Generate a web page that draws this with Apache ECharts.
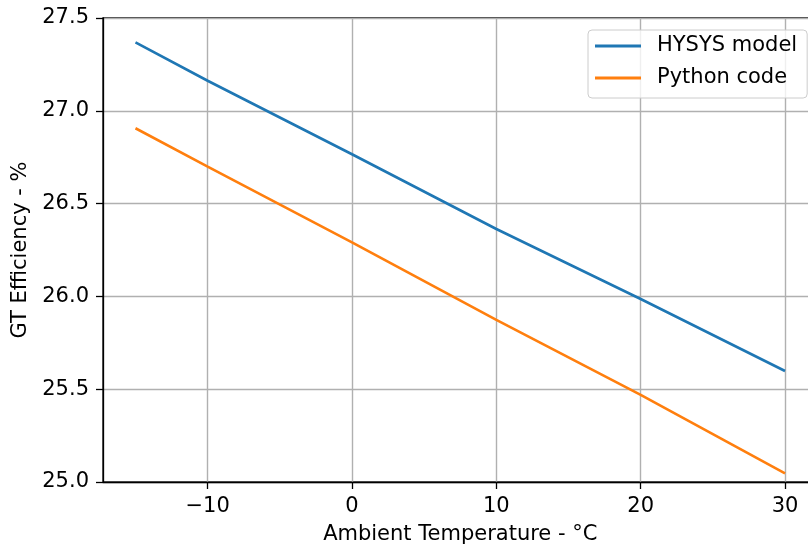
<!DOCTYPE html>
<html>
<head>
<meta charset="utf-8">
<script src="https://cdn.jsdelivr.net/npm/echarts@6/dist/echarts.min.js"></script>
<style>
  html, body { margin: 0; padding: 0; background: #fff; }
  #chart { width: 808px; height: 549px; }
</style>
</head>
<body>
<div id="chart"></div>
<script>
// data
const temps = [-15, -10, 0, 10, 20, 30]
const hysysEff = [27.369, 27.162, 26.766, 26.363, 25.986, 25.598]
const pythonEff = [26.906, 26.699, 26.291, 25.873, 25.469, 25.047]
const xTicks = [-10, 0, 10, 20, 30]

const font = 'DejaVu Sans'
const fs = 21
const toPairs = (xs, ys) => xs.map((x, i) => [x, ys[i]])
const minus = v => String(v).replace('-', '\u2212')

const myChart = echarts.init(document.getElementById('chart'))
const option = {
  animation: false,
  // plot area runs past the right edge of the canvas, like the cropped figure
  grid: {
    show: true, left: 103, top: 18, width: 714.5, height: 464,
    outerBoundsMode: 'none',
    borderColor: '#000', borderWidth: 1.3
  },
  legend: {
    orient: 'vertical',
    left: 588, top: 30,
    padding: [4, 10, 8, 7],
    itemWidth: 46, itemHeight: 3, itemGap: 8,
    icon: 'rect',
    backgroundColor: 'rgba(255,255,255,0.8)',
    borderColor: '#cccccc', borderWidth: 1, borderRadius: 4,
    textStyle: { fontFamily: font, fontSize: fs, color: '#000', lineHeight: 24, padding: [0, 0, 0, 11] }
  },
  xAxis: {
    type: 'value', min: -17.25, max: 32.25,
    name: 'Ambient Temperature - \u00b0C', nameLocation: 'middle', nameGap: 42,
    nameTextStyle: { fontFamily: font, fontSize: fs, color: '#000' },
    axisLine: { onZero: false, lineStyle: { color: '#000', width: 1.3 } },
    axisTick: { customValues: xTicks, length: 7, lineStyle: { color: '#000', width: 1.3 } },
    axisLabel: { customValues: xTicks, margin: 14, fontFamily: font, fontSize: fs, color: '#000', formatter: minus },
    splitLine: { show: true, lineStyle: { color: '#b0b0b0', width: 1.4 } }
  },
  yAxis: {
    type: 'value', min: 25, max: 27.5, interval: 0.5,
    name: 'GT Efficiency - %', nameLocation: 'middle', nameGap: 72,
    nameTextStyle: { fontFamily: font, fontSize: fs, color: '#000' },
    axisLine: { show: true, onZero: false, lineStyle: { color: '#000', width: 1.3 } },
    axisTick: { show: true, length: 7, lineStyle: { color: '#000', width: 1.3 } },
    axisLabel: { margin: 14, fontFamily: font, fontSize: fs, color: '#000', formatter: v => v.toFixed(1) },
    splitLine: { show: true, lineStyle: { color: '#b0b0b0', width: 1.4 } }
  },
  series: [
    {
      name: 'HYSYS model', type: 'line', data: toPairs(temps, hysysEff),
      showSymbol: false, symbol: 'none', color: '#1f77b4',
      lineStyle: { width: 2.6 }
    },
    {
      name: 'Python code', type: 'line', data: toPairs(temps, pythonEff),
      showSymbol: false, symbol: 'none', color: '#ff7f0e',
      lineStyle: { width: 2.6 }
    }
  ]
}
myChart.setOption(option)
</script>
</body>
</html>
